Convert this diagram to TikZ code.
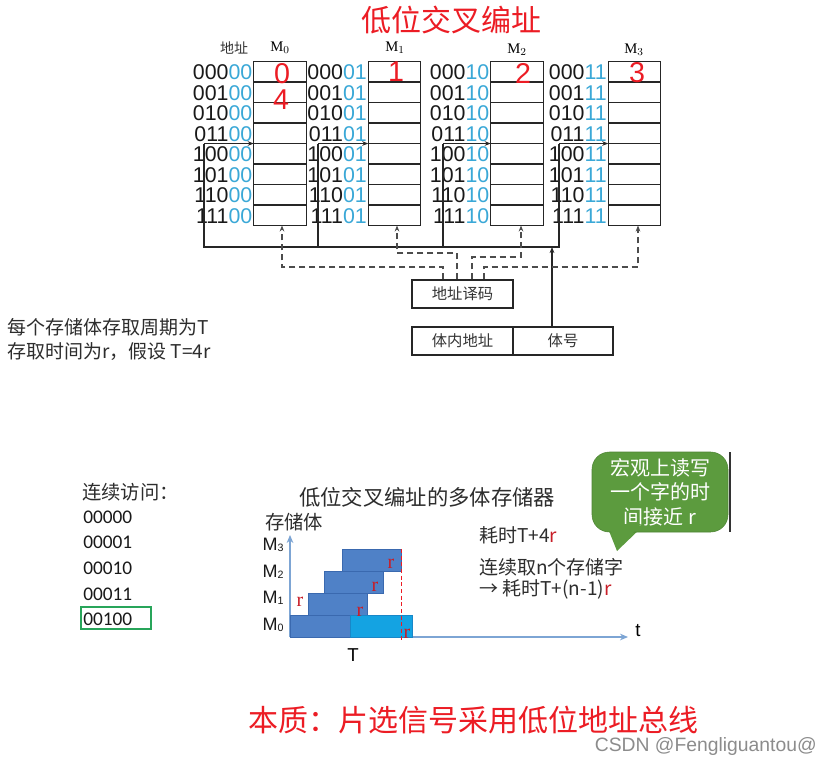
\documentclass[tikz,border=0pt]{standalone}
\usepackage{fontspec}
\setmainfont{Liberation Serif}
\newfontfamily\cjk{Noto Sans CJK SC}
\newfontfamily\ars{Liberation Sans}
\newfontfamily\calfont{Carlito}
\usetikzlibrary{arrows.meta,calc}
\definecolor{titlered}{RGB}{236,28,36}
\definecolor{addrblue}{RGB}{58,168,215}
\definecolor{bardark}{RGB}{79,129,199}
\definecolor{bardarkline}{RGB}{58,105,175}
\definecolor{barlight}{RGB}{20,163,226}
\definecolor{barlightline}{RGB}{25,135,200}
\definecolor{axisblue}{RGB}{125,165,212}
\definecolor{bubgreen}{RGB}{92,155,62}
\definecolor{boxgreen}{RGB}{40,165,90}
\definecolor{txtgray}{RGB}{45,45,45}
\definecolor{rred}{RGB}{200,30,40}
\newcommand\fsz[1]{\fontsize{#1}{#1}\selectfont}
\begin{document}
\begin{tikzpicture}[x=0.75pt,y=-0.75pt,
  cell/.style={draw=black!85,line width=0.8pt,minimum width=39.5pt,minimum height=15.375pt,inner sep=0pt,outer sep=0pt},
  addr/.style={inner sep=0pt,text=black!90,font={\ars\fsz{16}}},
  reddig/.style={inner sep=0pt,text=titlered,font={\ars\fsz{21.5}}},
  mhead/.style={inner sep=0pt,font={\fsz{11}}},
  bus/.style={draw=black!85,line width=0.8pt},
  dsh/.style={draw=black!70,line width=0.8pt,dash pattern=on 4.5pt off 3pt},
  tip/.style={-{Stealth[length=4.5pt,width=3.5pt]}},
  box/.style={draw=black!85,line width=0.8pt,inner sep=0pt,minimum height=21pt,font={\cjk\fsz{11.5}},text=black!80},
  bar/.style={fill=bardark,draw=bardarkline,line width=0.6pt},
  barl/.style={fill=barlight,draw=barlightline,line width=0.6pt},
  axis/.style={draw=axisblue,line width=0.8pt},
  rlab/.style={inner sep=0pt,text=rred,font={\fsz{15}}},
  mlab/.style={inner sep=0pt,text=black!90,font={\ars\fsz{13.5}}},
  cjktxt/.style={inner sep=0pt,text=txtgray,font={\cjk\fsz{14.25}}},
]
\fill[white] (0,0) rectangle (832,765);
\useasboundingbox (0,0) rectangle (832,765);

% ---------- top: low-order interleaving ----------
\node[inner sep=0pt,text=titlered,font={\cjk\fsz{22.5}}] (title) at (451,20) {低位交叉编址};
\node[inner sep=0pt,font={\cjk\fsz{10.5}},text=black!80] (dz) at (234,48) {地址};
\node[mhead] (h0) at (280,48) {$\mathrm{M}_0$};
\node[mhead] (h1) at (395,48) {$\mathrm{M}_1$};
\node[mhead] (h2) at (517,50) {$\mathrm{M}_2$};
\node[mhead] (h3) at (634,50) {$\mathrm{M}_3$};

\foreach \bk/\xc/\lo in {0/280/00,1/394.5/01,2/517/10,3/634.5/11} {
  \foreach \rw/\hi in {0/000,1/001,2/010,3/011,4/100,5/101,6/110,7/111} {
    \node[cell] (m\bk r\rw) at (\xc,71.75+20.5*\rw) {};
    \node[addr,anchor=east] (a\bk r\rw) at (\xc-27.5,72.5+20.5*\rw) {\hi\textcolor{addrblue}{\lo}};
  }
}
\node[reddig] (n0) at (282,73.5) {0};
\node[reddig] (n4) at (281,99.5) {4};
\node[reddig] (n1) at (396,72) {1};
\node[reddig] (n2) at (523,73) {2};
\node[reddig] (n3) at (637,73) {3};

% bus lines
\coordinate (v0) at (204,143.5);
\coordinate (v1) at (318,143.5);
\coordinate (v2) at (443,143.5);
\coordinate (v3) at (559,143.5);
\coordinate (bb0) at (204,247);
\coordinate (bb1) at (318,247);
\coordinate (bb2) at (443,247);
\coordinate (bb3) at (559,247);
\foreach \bk in {0,1,2,3} {\draw[bus,tip] (v\bk) -- (m\bk r4.north west);}
\draw[bus] (v0) -- (bb0) -- (bb3) -- (v3);
\draw[bus] (v1) -- (bb1);
\draw[bus] (v2) -- (bb2);

% decoder and address register
\node[box,minimum width=75.75pt] (dec) at (462.5,294) {地址译码};
\node[box,minimum width=75.75pt] (tinei) at (462.5,341) {体内地址};
\node[box,minimum width=75pt] (tihao) at (563,341) {体号};
\coordinate (busin) at (552,247);
\draw[bus,tip] (busin |- tihao.north) -- (busin);

% dashed select lines
\coordinate (k0) at (443,267);
\coordinate (k1) at (457,253);
\coordinate (k2) at (472,257);
\coordinate (k3) at (484,267);
\coordinate (t0) at (282,226);
\coordinate (t1) at (397,226);
\coordinate (t2) at (521,226);
\coordinate (t3) at (638,226);
\foreach \bk in {0,1,2,3} {\draw[dsh,tip] (k\bk |- dec.north) -- (k\bk) -| (t\bk |- m\bk r7.south);}

% note
\node[cjktxt,anchor=west] (note1) at (7,327) {每个存储体存取周期为T};
\node[cjktxt,anchor=west] (note2) at (7,352) {存取时间为r，假设 T=4r};

% ---------- bottom: timing ----------
\node[cjktxt,anchor=west,font={\cjk\fsz{14.5}}] (lx) at (82,492) {连续访问：};
\foreach \i/\s in {0/00000,1/00001,2/00010,3/00011,4/00100} {
  \node[anchor=west,inner sep=0pt,text=black!90,font={\calfont\fsz{14.5}}] (l\i) at (83,517+25.6*\i) {\s};
}
\draw[draw=boxgreen,line width=1.5pt] (81,607) rectangle (151,629);

\node[cjktxt,font={\cjk\fsz{16}}] (ctitle) at (427,497) {低位交叉编址的多体存储器};
\node[cjktxt,font={\cjk\fsz{14.5}}] (ylab) at (294,522) {存储体};

\draw[axis,-{Stealth[length=6pt,width=5pt]}] (290,637) -- (290,535);
\draw[axis,-{Stealth[length=6pt,width=5pt]}] (290,637) -- (628,637);
\node[inner sep=0pt,font={\ars\fsz{14}}] (tlab) at (638,631) {t};
\node[inner sep=0pt,font={\ars\fsz{14}}] (Tlab) at (353,655) {T};

\draw[bar] (342,549) rectangle (401,571);
\draw[bar] (324,571) rectangle (383,593);
\draw[bar] (308,593) rectangle (367,615);
\draw[bar] (290,615) rectangle (350,637);
\draw[barl] (350,615) rectangle (412,637);
\draw[titlered,line width=0.6pt,densely dashed] (401,549) -- (401,642);

\node[mlab] (lm3) at (273,545) {M\raisebox{-1pt}{\fsz{8}3}};
\node[mlab] (lm2) at (273,572) {M\raisebox{-1pt}{\fsz{8}2}};
\node[mlab] (lm1) at (273,598) {M\raisebox{-1pt}{\fsz{8}1}};
\node[mlab] (lm0) at (273,625) {M\raisebox{-1pt}{\fsz{8}0}};

\node[rlab] (r1) at (300,602) {r};
\node[rlab] (r2) at (360,612) {r};
\node[rlab] (r3) at (375,587) {r};
\node[rlab] (r4) at (391,564) {r};
\node[rlab] (r5) at (407,634) {r};

\node[cjktxt,anchor=west] (t4r) at (479,535) {耗时T+4\textcolor{rred}{r}};
\node[cjktxt,anchor=west] (tn1) at (479,567) {连续取n个存储字};
\node[cjktxt,anchor=west] (tn2) at (479,589) {→ 耗时T+(n-1)\textcolor{rred}{r}};

% speech bubble
\fill[bubgreen] (607,526) -- (617,551) -- (643,526) -- cycle;
\node[fill=bubgreen,draw=bubgreen!85!black,line width=0.4pt,rounded corners=13pt,minimum width=102pt,minimum height=60pt,
      align=center,text=white,font={\cjk\fontsize{15}{18.5}\selectfont},inner sep=2pt] (bub) at (660,492) {宏观上读写\\一个字的时\\间接近 r};
\fill[bubgreen] (609,524) -- (617,550) -- (641,524) -- cycle;
\draw[black!80,line width=2pt] (730,452) -- (730,532);

% bottom line
\node[inner sep=0pt,text=titlered,font={\cjk\fsz{22.5}}] (ess) at (473,720) {本质：片选信号采用低位地址总线};
\node[inner sep=0pt,anchor=east,text=black!45,font={\ars\fsz{14.5}}] (csdn) at (817,746) {CSDN @Fengliguantou@};
\end{tikzpicture}
\end{document}
